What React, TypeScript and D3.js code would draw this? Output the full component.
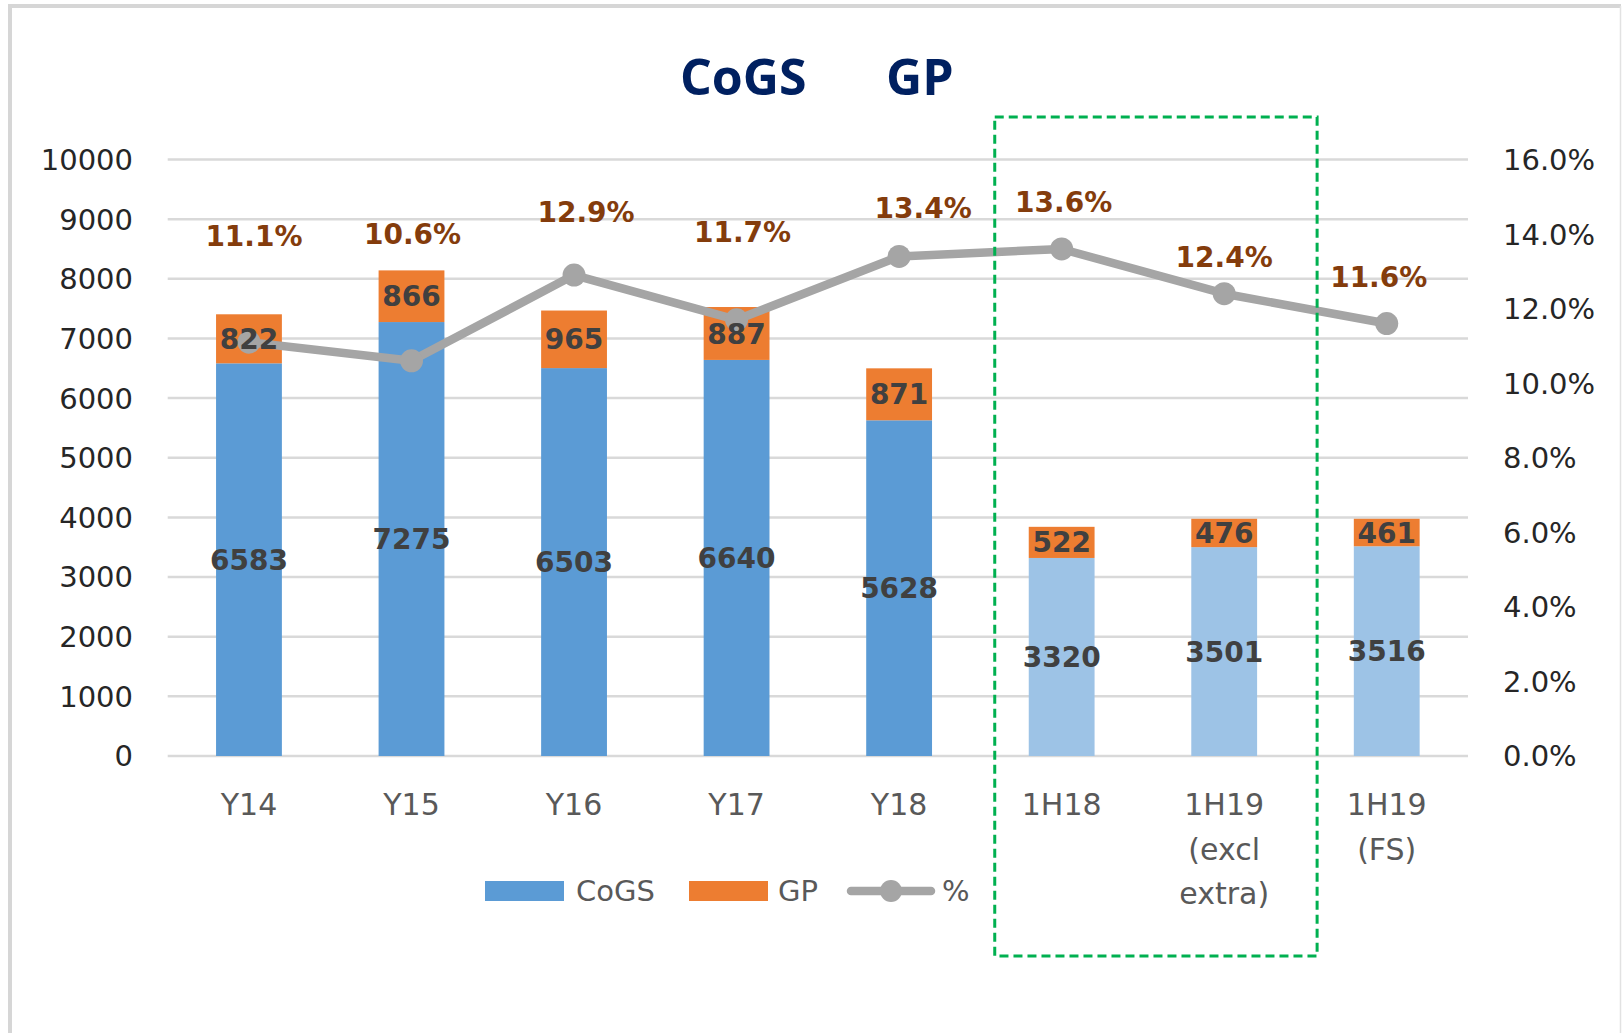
import React from "react";
import * as d3 from "d3";

// ---- data ----
const categories = ["Y14", "Y15", "Y16", "Y17", "Y18", "1H18", "1H19 (excl extra)", "1H19 (FS)"];
const categoryLines = [["Y14"], ["Y15"], ["Y16"], ["Y17"], ["Y18"], ["1H18"], ["1H19", "(excl", "extra)"], ["1H19", "(FS)"]];
const cogsValues = [6583, 7275, 6503, 6640, 5628, 3320, 3501, 3516];
const gpValues = [822, 866, 965, 887, 871, 522, 476, 461];
const pctValues = [11.1, 10.6, 12.9, 11.7, 13.4, 13.6, 12.4, 11.6];
const halfYear = [false, false, false, false, false, true, true, true];
const leftTicks = [0, 1000, 2000, 3000, 4000, 5000, 6000, 7000, 8000, 9000, 10000];
const rightTicks = [0, 2, 4, 6, 8, 10, 12, 14, 16];
const highlighted = ["1H18", "1H19 (excl extra)"];

// label layout offsets (px) for the % annotations
const pctLabelDx = [5, 1, 12, 6, 24, 2, 0, -8];
const pctLabelDy = [-106, -127, -63, -88, -49, -47, -37, -47];

const W = 1623;
const H = 1033;
const plotLeft = 167.7;
const plotRight = 1468;
const yBottom = 756;
const yTop = 159.5;

const C_COGS = "#5B9BD5";
const C_COGS_LIGHT = "#9DC3E6";
const C_GP = "#ED7D31";
const C_LINE = "#A5A5A5";
const C_GRID = "#D9D9D9";
const FONT = "'DejaVu Sans', sans-serif";

export default function App() {
  const x = d3.scaleBand<string>().domain(categories).range([plotLeft, plotRight]).paddingInner(0.595).paddingOuter(0.2975);
  const y = d3.scaleLinear().domain([0, 10000]).range([yBottom, yTop]);
  const yR = d3.scaleLinear().domain([0, 16]).range([yBottom, yTop]);
  const bw = x.bandwidth();
  const cx = (c: string) => (x(c) as number) + bw / 2;

  const line = d3
    .line<number>()
    .x((_, i) => cx(categories[i]))
    .y((d) => yR(d));

  const hlX0 = (x(highlighted[0]) as number) - 34;
  const hlX1 = (x(highlighted[1]) as number) + bw + 60;

  return (
    <svg width={W} height={H} style={{ position: "absolute", left: 0, top: 0, background: "#fff" }}>
      {/* frame */}
      <line x1={10} y1={6} x2={1621} y2={6} stroke="#D6D6D6" strokeWidth={4} />
      <line x1={10} y1={4} x2={10} y2={H} stroke="#D6D6D6" strokeWidth={4} />
      <line x1={1620.5} y1={6} x2={1620.5} y2={H} stroke="#E2E2E2" strokeWidth={1.5} />

      {/* title */}
      <text x={680} y={95} fontFamily="'Open Sans', sans-serif" fontWeight={700} fontSize={50} fill="#002060">CoGS</text>
      <text x={886} y={95} fontFamily="'Open Sans', sans-serif" fontWeight={700} fontSize={50} fill="#002060">GP</text>

      {/* gridlines */}
      {leftTicks.map((t) => (
        <line key={t} x1={plotLeft} x2={plotRight} y1={y(t)} y2={y(t)} stroke={C_GRID} strokeWidth={2.5} />
      ))}

      {/* left axis labels */}
      {leftTicks.map((t) => (
        <text key={t} x={133} y={y(t)} dy="0.36em" textAnchor="end" fontFamily={FONT} fontSize={29} fill="#262626">
          {t}
        </text>
      ))}
      {/* right axis labels */}
      {rightTicks.map((t) => (
        <text key={t} x={1503} y={yR(t)} dy="0.36em" textAnchor="start" fontFamily={FONT} fontSize={29} fill="#262626">
          {t.toFixed(1) + "%"}
        </text>
      ))}

      {/* bars */}
      {categories.map((c, i) => (
        <g key={c}>
          <rect x={x(c)} y={y(cogsValues[i])} width={bw} height={y(0) - y(cogsValues[i])} fill={halfYear[i] ? C_COGS_LIGHT : C_COGS} />
          <rect x={x(c)} y={y(cogsValues[i] + gpValues[i])} width={bw} height={y(cogsValues[i]) - y(cogsValues[i] + gpValues[i])} fill={C_GP} />
        </g>
      ))}

      {/* line */}
      <path d={line(pctValues) as string} fill="none" stroke={C_LINE} strokeWidth={8.5} strokeLinejoin="round" />
      {pctValues.map((p, i) => (
        <circle key={i} cx={cx(categories[i])} cy={yR(p)} r={11.5} fill={C_LINE} />
      ))}

      {/* bar labels */}
      {categories.map((c, i) => (
        <g key={c} fontFamily={FONT} fontWeight={700} fontSize={28} fill="#404040" textAnchor="middle">
          <text x={cx(c)} y={(y(0) + y(cogsValues[i])) / 2} dy="0.36em">{cogsValues[i]}</text>
          <text x={cx(c)} y={(y(cogsValues[i]) + y(cogsValues[i] + gpValues[i])) / 2} dy="0.36em">{gpValues[i]}</text>
        </g>
      ))}

      {/* pct labels */}
      {pctValues.map((p, i) => (
        <text key={i} x={cx(categories[i]) + pctLabelDx[i]} y={yR(p) + pctLabelDy[i]} dy="0.36em" textAnchor="middle" fontFamily={FONT} fontWeight={700} fontSize={28} fill="#843C0C">
          {p.toFixed(1) + "%"}
        </text>
      ))}

      {/* x axis labels */}
      {categories.map((c, i) => (
        <text key={c} x={cx(c)} textAnchor="middle" fontFamily={FONT} fontSize={30} fill="#595959">
          {categoryLines[i].map((ln, k) => (
            <tspan key={k} x={cx(c)} y={815 + k * 44.5}>{ln}</tspan>
          ))}
        </text>
      ))}

      {/* highlight box */}
      <rect x={hlX0} y={117} width={hlX1 - hlX0} height={956 - 117} fill="none" stroke="#00B050" strokeWidth={3} strokeDasharray="9 5" />

      {/* legend */}
      <g fontFamily={FONT} fontSize={29} fill="#595959">
        <rect x={485} y={881} width={79} height={20} fill={C_COGS} />
        <text x={576} y={901}>CoGS</text>
        <rect x={689} y={881} width={79} height={20} fill={C_GP} />
        <text x={778} y={901}>GP</text>
        <line x1={851} x2={931} y1={891} y2={891} stroke={C_LINE} strokeWidth={8.5} strokeLinecap="round" />
        <circle cx={891} cy={891} r={11} fill={C_LINE} />
        <text x={942} y={901}>%</text>
      </g>
    </svg>
  );
}
